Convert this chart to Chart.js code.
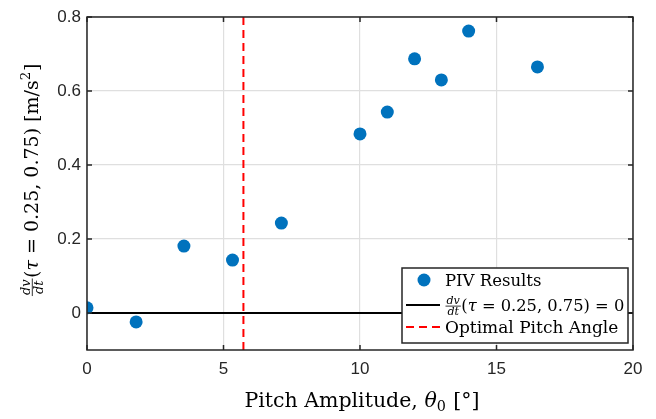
<!DOCTYPE html>
<html>
<head>
<meta charset="utf-8">
<script src="https://cdn.jsdelivr.net/npm/chart.js@4"></script>
<style>
  html, body { margin: 0; padding: 0; background: #fff; }
  #wrap { width: 656px; height: 419px; position: relative; }
</style>
</head>
<body>
<div id="wrap"><canvas id="chart"></canvas></div>
<script>
// ===== DATA =====
const pitchAmp = [0, 1.8, 3.55, 5.33, 7.12, 10.0, 11.0, 12.0, 12.98, 13.98, 16.5];
const dvdt = [0.014, -0.024, 0.181, 0.143, 0.243, 0.484, 0.543, 0.687, 0.630, 0.762, 0.665];
const optimalPitch = 5.73;
const zeroLineX = [0, 20];
const xTicks = [0, 5, 10, 15, 20];
const yTicks = [0, 0.2, 0.4, 0.6, 0.8];
const yRange = [-0.1, 0.8];

const BLUE = '#0072BD';
const AXIS = '#262626';
const SERIF = "'DejaVu Serif', 'Liberation Serif', serif";
const SANS = "'Liberation Sans', Arial, sans-serif";

// ===== MATH TEXT HELPER =====
// segments: {t, it} | {frac:[num,den]} | {sup} | {sub}
function segWidth(ctx, s, size) {
  if (s.frac) {
    ctx.font = `italic ${size * 0.68}px ${SERIF}`;
    return Math.max(ctx.measureText(s.frac[0]).width, ctx.measureText(s.frac[1]).width) + 3;
  }
  if (s.sup || s.sub) {
    ctx.font = `${size * 0.7}px ${SERIF}`;
    return ctx.measureText(s.sup || s.sub).width + 1;
  }
  ctx.font = `${s.it ? 'italic ' : ''}${size}px ${SERIF}`;
  return ctx.measureText(s.t).width;
}

function drawMath(ctx, segs, x, y, size, align) {
  const widths = segs.map(s => segWidth(ctx, s, size));
  const total = widths.reduce((a, b) => a + b, 0);
  let cx = align === 'center' ? x - total / 2 : x;
  ctx.textBaseline = 'alphabetic';
  ctx.textAlign = 'left';
  ctx.fillStyle = '#000';
  segs.forEach((s, i) => {
    const w = widths[i];
    if (s.frac) {
      const axisY = y - size * 0.3;
      ctx.font = `italic ${size * 0.68}px ${SERIF}`;
      ctx.textAlign = 'center';
      ctx.fillText(s.frac[0], cx + w / 2, axisY - 2.5);
      ctx.fillText(s.frac[1], cx + w / 2, axisY + size * 0.55);
      ctx.textAlign = 'left';
      ctx.strokeStyle = '#000';
      ctx.lineWidth = 0.8;
      ctx.beginPath();
      ctx.moveTo(cx + 0.5, axisY);
      ctx.lineTo(cx + w - 0.5, axisY);
      ctx.stroke();
    } else if (s.sup) {
      ctx.font = `${size * 0.7}px ${SERIF}`;
      ctx.fillText(s.sup, cx, y - size * 0.4);
    } else if (s.sub) {
      ctx.font = `${size * 0.7}px ${SERIF}`;
      ctx.fillText(s.sub, cx, y + size * 0.2);
    } else {
      ctx.font = `${s.it ? 'italic ' : ''}${size}px ${SERIF}`;
      ctx.fillText(s.t, cx, y);
    }
    cx += w;
  });
}

const dvdtLabel = [
  { frac: ['dv', 'dt'] }, { t: '(' }, { t: 'τ', it: true }, { t: ' = 0.25, 0.75)' }
];

// ===== PLUGINS =====
const framePlugin = {
  id: 'frame',
  afterDatasetsDraw(chart) {
    const { ctx, chartArea: a, scales: { x, y } } = chart;
    ctx.save();
    ctx.strokeStyle = AXIS;
    ctx.lineWidth = 1.5;
    ctx.strokeRect(a.left, a.top, a.right - a.left, a.bottom - a.top);
    ctx.beginPath();
    xTicks.forEach(v => {
      const px = x.getPixelForValue(v);
      ctx.moveTo(px, a.bottom); ctx.lineTo(px, a.bottom - 5);
      ctx.moveTo(px, a.top); ctx.lineTo(px, a.top + 5);
    });
    yTicks.forEach(v => {
      const py = y.getPixelForValue(v);
      ctx.moveTo(a.left, py); ctx.lineTo(a.left + 5, py);
      ctx.moveTo(a.right, py); ctx.lineTo(a.right - 5, py);
    });
    ctx.stroke();
    ctx.restore();
  },
  afterDraw(chart) {
    const { ctx } = chart;
    ctx.save();
    // legend
    const L = 402, T = 268, R = 628, B = 343;
    ctx.fillStyle = '#fff';
    ctx.fillRect(L, T, R - L, B - T);
    ctx.strokeStyle = AXIS;
    ctx.lineWidth = 1.5;
    ctx.strokeRect(L, T, R - L, B - T);

    ctx.fillStyle = BLUE;
    ctx.beginPath();
    ctx.arc(424, 280, 6.5, 0, Math.PI * 2);
    ctx.fill();
    drawMath(ctx, [{ t: 'PIV Results' }], 445, 286, 16.5, 'left');

    ctx.strokeStyle = '#000';
    ctx.lineWidth = 2;
    ctx.beginPath();
    ctx.moveTo(406, 305); ctx.lineTo(440, 305);
    ctx.stroke();
    drawMath(ctx, dvdtLabel.concat([{ t: ' = 0' }]), 445, 311, 16.3, 'left');

    ctx.strokeStyle = '#ff0000';
    ctx.lineWidth = 2.2;
    ctx.setLineDash([8, 5]);
    ctx.beginPath();
    ctx.moveTo(406, 327); ctx.lineTo(442, 327);
    ctx.stroke();
    ctx.setLineDash([]);
    drawMath(ctx, [{ t: 'Optimal Pitch Angle' }], 445, 333, 17, 'left');

    // x title
    drawMath(ctx, [{ t: 'Pitch Amplitude, ' }, { t: 'θ', it: true }, { sub: '0' }, { t: ' [°]' }],
      362, 407, 20.5, 'center');

    // y title
    ctx.translate(38, 180);
    ctx.rotate(-Math.PI / 2);
    drawMath(ctx, dvdtLabel.concat([{ t: ' [m/s' }, { sup: '2' }, { t: ']' }]), 0, 0, 19, 'center');
    ctx.restore();
  }
};

// ===== CHART =====
new Chart(document.getElementById('chart'), {
  type: 'scatter',
  data: {
    datasets: [
      {
        label: 'PIV Results',
        data: pitchAmp.map((v, i) => ({ x: v, y: dvdt[i] })),
        backgroundColor: BLUE,
        borderWidth: 0,
        pointRadius: 6.5,
        order: 0
      },
      {
        type: 'line',
        label: 'zero',
        data: zeroLineX.map(v => ({ x: v, y: 0 })),
        borderColor: '#000',
        borderWidth: 2,
        pointRadius: 0,
        order: 2
      },
      {
        type: 'line',
        label: 'Optimal Pitch Angle',
        data: yRange.map(v => ({ x: optimalPitch, y: v })),
        borderColor: '#ff0000',
        borderDash: [8, 5],
        borderWidth: 2,
        pointRadius: 0,
        order: 1
      }
    ]
  },
  options: {
    responsive: true,
    maintainAspectRatio: false,
    animation: false,
    layout: { padding: { top: 17, right: 23, left: 0, bottom: 0 } },
    plugins: { legend: { display: false }, tooltip: { enabled: false } },
    scales: {
      x: {
        type: 'linear', min: 0, max: 20,
        afterBuildTicks: s => { s.ticks = xTicks.map(v => ({ value: v })); },
        afterFit: s => { s.height = 69; },
        ticks: { font: { family: SANS, size: 17 }, color: AXIS, padding: 9, maxRotation: 0 },
        grid: { color: '#dfdfdf', lineWidth: 1.2, drawTicks: false },
        border: { display: false }
      },
      y: {
        min: yRange[0], max: yRange[1],
        afterBuildTicks: s => { s.ticks = yTicks.map(v => ({ value: v })); },
        afterFit: s => { s.width = 87; },
        ticks: { font: { family: SANS, size: 17 }, color: AXIS, padding: 6 },
        grid: { color: '#dfdfdf', lineWidth: 1.2, drawTicks: false },
        border: { display: false }
      }
    }
  },
  plugins: [framePlugin]
});
</script>
</body>
</html>
